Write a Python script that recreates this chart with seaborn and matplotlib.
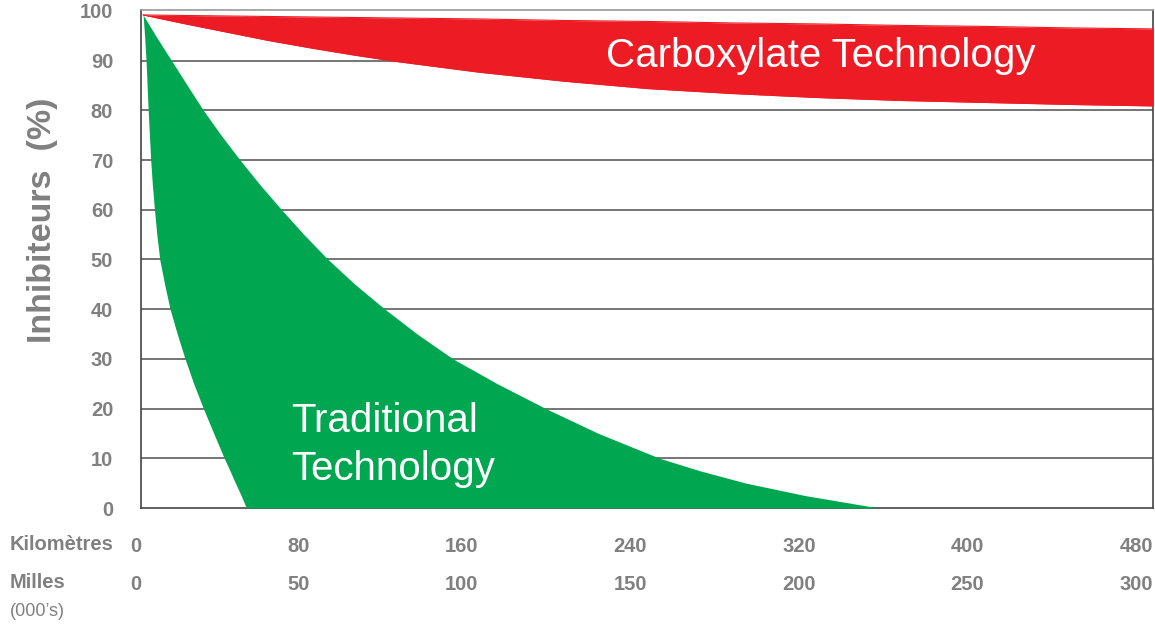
"""
Inhibiteurs (%) vs distance: Carboxylate vs Traditional technology
"""
import matplotlib
matplotlib.use("Agg")
import matplotlib.pyplot as plt
import seaborn as sns

# ---- data ----
# green band (traditional): for each inhibitor level, left and right edge in km
GREEN_PCT = [99.2, 95, 90, 85, 80, 75, 70, 65, 60, 55, 50, 45, 40, 35, 30, 25, 20, 15, 10, 7.5, 5, 2.5, 0]
GREEN_LEFT_KM = [1, 1.7, 2.4, 2.9, 3.4, 4.0, 4.6, 5.4, 6.4, 7.5, 8.9, 11.2, 13.8, 17.2, 20.9, 25, 29.6, 34.5, 39.5, 42.2, 44.8, 47.5, 50]
GREEN_RIGHT_KM = [1, 7, 14.5, 22, 29.6, 38, 47, 56.5, 66.7, 77.3, 88.7, 101.5, 115.7, 131, 148, 169, 192, 217, 246, 265, 287, 315, 350]

# red band (carboxylate): upper and lower edge along the distance
RED_KM = [1, 20, 40, 60, 80, 100, 120, 160, 200, 240, 280, 320, 360, 400, 440, 480]
RED_UPPER = [99.2, 99.1, 99.0, 98.9, 98.8, 98.7, 98.6, 98.4, 98.1, 97.9, 97.6, 97.4, 97.1, 96.9, 96.6, 96.4]
RED_LOWER = [99.2, 97.5, 95.8, 94.1, 92.6, 91.2, 89.9, 87.7, 85.9, 84.4, 83.4, 82.6, 82.0, 81.6, 81.2, 80.9]

KM_TICKS = [0, 80, 160, 240, 320, 400, 480]
MILES_TICKS = [0, 50, 100, 150, 200, 250, 300]
PCT_TICKS = [0, 10, 20, 30, 40, 50, 60, 70, 80, 90, 100]

RED = "#ED1C24"
GREEN = "#00A650"
GREY = "#808080"
LINE = "#6a6a6a"

sns.set_theme(style="white")
plt.rcParams["font.family"] = ["Liberation Sans", "DejaVu Sans"]
FAM = ["Liberation Sans", "DejaVu Sans"]

fig = plt.figure(figsize=(11.55, 6.26), dpi=100)
ax = fig.add_axes([141 / 1155, 1 - 508 / 626, 1012 / 1155, 498 / 626])

# bands
ax.fill_betweenx(GREEN_PCT, GREEN_LEFT_KM, GREEN_RIGHT_KM, color=GREEN, linewidth=0, zorder=3)
ax.fill_between(RED_KM, RED_LOWER, RED_UPPER, color=RED, linewidth=0, zorder=3)
sns.lineplot(x=RED_KM, y=RED_UPPER, color=RED, linewidth=0.8, ax=ax, zorder=3)
sns.lineplot(x=RED_KM, y=RED_LOWER, color=RED, linewidth=0.8, ax=ax, zorder=3)

ax.set_xlim(0, 480)
ax.set_ylim(0, 100.2)

# grid + frame
for v in PCT_TICKS[1:-1]:
    ax.axhline(v, color=LINE, linewidth=1.3, zorder=1)
for name, s in ax.spines.items():
    s.set_color("#999999" if name == "top" else "#444444")
    s.set_linewidth(1.2)
    s.set_visible(True)

# y ticks
ax.set_yticks(PCT_TICKS)
ax.set_yticklabels([str(v) for v in PCT_TICKS], fontsize=14.5, fontweight="bold",
                   color=GREY, family=FAM)
ax.tick_params(axis="y", length=0, pad=20)

# km row
ax.set_xticks(KM_TICKS)
ax.set_xticklabels([str(v) for v in KM_TICKS], fontsize=14.5, fontweight="bold",
                   color=GREY, family=FAM, ha="right")
ax.tick_params(axis="x", length=0, pad=21)

# miles row
sec = ax.secondary_xaxis("bottom", functions=(lambda k: k * 0.625, lambda m: m / 0.625))
sec.set_xticks(MILES_TICKS)
sec.set_xticklabels([str(v) for v in MILES_TICKS], fontsize=14.5, fontweight="bold",
                    color=GREY, family=FAM, ha="right")
sec.tick_params(axis="x", length=0, pad=48)
sec.spines["bottom"].set_visible(False)

# band labels
ax.text(220.5, 88.7, "Carboxylate Technology", color="white", fontsize=29,
        family=FAM, va="baseline", ha="left", zorder=5)
ax.text(71, 15.3, "Traditional", color="white", fontsize=29,
        family=FAM, va="baseline", ha="left", zorder=5)
ax.text(71, 5.6, "Technology", color="white", fontsize=29,
        family=FAM, va="baseline", ha="left", zorder=5)

# axis / row labels
fig.text(43 / 1155, 1 - 220 / 626, "Inhibiteurs  (%)", rotation=90, ha="center", va="center",
         fontsize=24.5, fontweight="bold", color=GREY, family=FAM)
fig.text(10 / 1155, 1 - 545 / 626, "Kilomètres", ha="left", va="center",
         fontsize=14.5, fontweight="bold", color=GREY, family=FAM)
fig.text(10 / 1155, 1 - 582 / 626, "Milles", ha="left", va="center",
         fontsize=14.5, fontweight="bold", color=GREY, family=FAM)
fig.text(10 / 1155, 1 - 611 / 626, "(000\u2019s)", ha="left", va="center",
         fontsize=13, color=GREY, family=FAM)

fig.savefig("out.png", dpi=100, facecolor="white")
plt.close(fig)
